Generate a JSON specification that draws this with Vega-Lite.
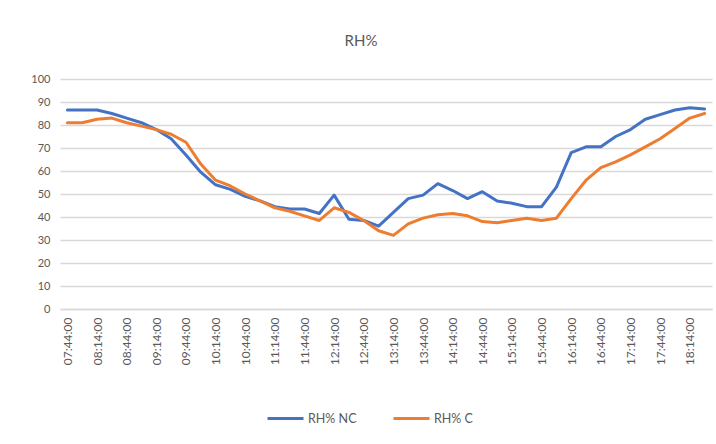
{
  "$schema": "https://vega.github.io/schema/vega-lite/v6.json",
  "autosize": "none",
  "width": 652,
  "height": 230,
  "padding": {"left": 60, "top": 79, "right": 4, "bottom": 135},
  "background": "white",
  "title": {"text": "RH%", "fontSize": 15, "font": "Lato", "fontWeight": "normal", "color": "#595959", "offset": 24, "dx": -25, "anchor": "middle"},
  "data": {"values": [
    {"time":"07:44:00","series":"RH% NC","rh":86.5},{"time":"07:59:00","series":"RH% NC","rh":86.5},{"time":"08:14:00","series":"RH% NC","rh":86.5},{"time":"08:29:00","series":"RH% NC","rh":85},{"time":"08:44:00","series":"RH% NC","rh":83},{"time":"08:59:00","series":"RH% NC","rh":81},{"time":"09:14:00","series":"RH% NC","rh":78},{"time":"09:29:00","series":"RH% NC","rh":74},{"time":"09:44:00","series":"RH% NC","rh":67},{"time":"09:59:00","series":"RH% NC","rh":59.5},{"time":"10:14:00","series":"RH% NC","rh":54},{"time":"10:29:00","series":"RH% NC","rh":52},{"time":"10:44:00","series":"RH% NC","rh":49},{"time":"10:59:00","series":"RH% NC","rh":47},{"time":"11:14:00","series":"RH% NC","rh":44.5},{"time":"11:29:00","series":"RH% NC","rh":43.5},{"time":"11:44:00","series":"RH% NC","rh":43.5},{"time":"11:59:00","series":"RH% NC","rh":41.5},{"time":"12:14:00","series":"RH% NC","rh":49.5},{"time":"12:29:00","series":"RH% NC","rh":39},{"time":"12:44:00","series":"RH% NC","rh":38.5},{"time":"12:59:00","series":"RH% NC","rh":36},{"time":"13:14:00","series":"RH% NC","rh":42},{"time":"13:29:00","series":"RH% NC","rh":48},{"time":"13:44:00","series":"RH% NC","rh":49.5},{"time":"13:59:00","series":"RH% NC","rh":54.5},{"time":"14:14:00","series":"RH% NC","rh":51.5},{"time":"14:29:00","series":"RH% NC","rh":48},{"time":"14:44:00","series":"RH% NC","rh":51},{"time":"14:59:00","series":"RH% NC","rh":47},{"time":"15:14:00","series":"RH% NC","rh":46},{"time":"15:29:00","series":"RH% NC","rh":44.5},{"time":"15:44:00","series":"RH% NC","rh":44.5},{"time":"15:59:00","series":"RH% NC","rh":53},{"time":"16:14:00","series":"RH% NC","rh":68},{"time":"16:29:00","series":"RH% NC","rh":70.5},{"time":"16:44:00","series":"RH% NC","rh":70.5},{"time":"16:59:00","series":"RH% NC","rh":75},{"time":"17:14:00","series":"RH% NC","rh":78},{"time":"17:29:00","series":"RH% NC","rh":82.5},{"time":"17:44:00","series":"RH% NC","rh":84.5},{"time":"17:59:00","series":"RH% NC","rh":86.5},{"time":"18:14:00","series":"RH% NC","rh":87.5},{"time":"18:29:00","series":"RH% NC","rh":87},
    {"time":"07:44:00","series":"RH% C","rh":81},{"time":"07:59:00","series":"RH% C","rh":81},{"time":"08:14:00","series":"RH% C","rh":82.5},{"time":"08:29:00","series":"RH% C","rh":83},{"time":"08:44:00","series":"RH% C","rh":81},{"time":"08:59:00","series":"RH% C","rh":79.5},{"time":"09:14:00","series":"RH% C","rh":78},{"time":"09:29:00","series":"RH% C","rh":76},{"time":"09:44:00","series":"RH% C","rh":72.5},{"time":"09:59:00","series":"RH% C","rh":63},{"time":"10:14:00","series":"RH% C","rh":56},{"time":"10:29:00","series":"RH% C","rh":53.5},{"time":"10:44:00","series":"RH% C","rh":50},{"time":"10:59:00","series":"RH% C","rh":47},{"time":"11:14:00","series":"RH% C","rh":44},{"time":"11:29:00","series":"RH% C","rh":42.5},{"time":"11:44:00","series":"RH% C","rh":40.5},{"time":"11:59:00","series":"RH% C","rh":38.5},{"time":"12:14:00","series":"RH% C","rh":44},{"time":"12:29:00","series":"RH% C","rh":42},{"time":"12:44:00","series":"RH% C","rh":38.5},{"time":"12:59:00","series":"RH% C","rh":34},{"time":"13:14:00","series":"RH% C","rh":32},{"time":"13:29:00","series":"RH% C","rh":37},{"time":"13:44:00","series":"RH% C","rh":39.5},{"time":"13:59:00","series":"RH% C","rh":41},{"time":"14:14:00","series":"RH% C","rh":41.5},{"time":"14:29:00","series":"RH% C","rh":40.5},{"time":"14:44:00","series":"RH% C","rh":38},{"time":"14:59:00","series":"RH% C","rh":37.5},{"time":"15:14:00","series":"RH% C","rh":38.5},{"time":"15:29:00","series":"RH% C","rh":39.5},{"time":"15:44:00","series":"RH% C","rh":38.5},{"time":"15:59:00","series":"RH% C","rh":39.5},{"time":"16:14:00","series":"RH% C","rh":48},{"time":"16:29:00","series":"RH% C","rh":56},{"time":"16:44:00","series":"RH% C","rh":61.5},{"time":"16:59:00","series":"RH% C","rh":64},{"time":"17:14:00","series":"RH% C","rh":67},{"time":"17:29:00","series":"RH% C","rh":70.5},{"time":"17:44:00","series":"RH% C","rh":74},{"time":"17:59:00","series":"RH% C","rh":78.5},{"time":"18:14:00","series":"RH% C","rh":83},{"time":"18:29:00","series":"RH% C","rh":85}
  ]},
  "mark": {"type": "line", "strokeWidth": 3, "strokeJoin": "round", "strokeCap": "round"},
  "encoding": {
    "x": {
      "field": "time", "type": "ordinal", "sort": null,
      "scale": {"padding": 0.5},
      "axis": {
        "title": null,
        "values": ["07:44:00","08:14:00","08:44:00","09:14:00","09:44:00","10:14:00","10:44:00","11:14:00","11:44:00","12:14:00","12:44:00","13:14:00","13:44:00","14:14:00","14:44:00","15:14:00","15:44:00","16:14:00","16:44:00","17:14:00","17:44:00","18:14:00"],
        "labelAngle": -90, "labelFont": "Lato", "labelFontSize": 12, "labelColor": "#595959",
        "labelPadding": 8, "ticks": false, "domainColor": "#d9d9d9", "domainWidth": 1.5, "grid": false
      }
    },
    "y": {
      "field": "rh", "type": "quantitative",
      "scale": {"domain": [0, 100], "nice": false},
      "axis": {
        "title": null, "values": [0,10,20,30,40,50,60,70,80,90,100],
        "labelFont": "Lato", "labelFontSize": 11, "labelColor": "#595959", "labelPadding": 10,
        "ticks": false, "domain": false, "gridColor": "#d9d9d9", "gridWidth": 1.5
      }
    },
    "color": {
      "field": "series", "type": "nominal",
      "scale": {"domain": ["RH% NC", "RH% C"], "range": ["#4472C4", "#ED7D31"]},
      "legend": {
        "title": null, "orient": "none", "direction": "horizontal",
        "legendX": 206, "legendY": 320,
        "symbolType": "stroke", "symbolSize": 1296, "symbolStrokeWidth": 3,
        "labelFont": "Lato", "labelFontSize": 12.5, "labelColor": "#595959",
        "columnPadding": 30, "labelOffset": 3
      }
    }
  },
  "config": {"view": {"stroke": null}}
}
